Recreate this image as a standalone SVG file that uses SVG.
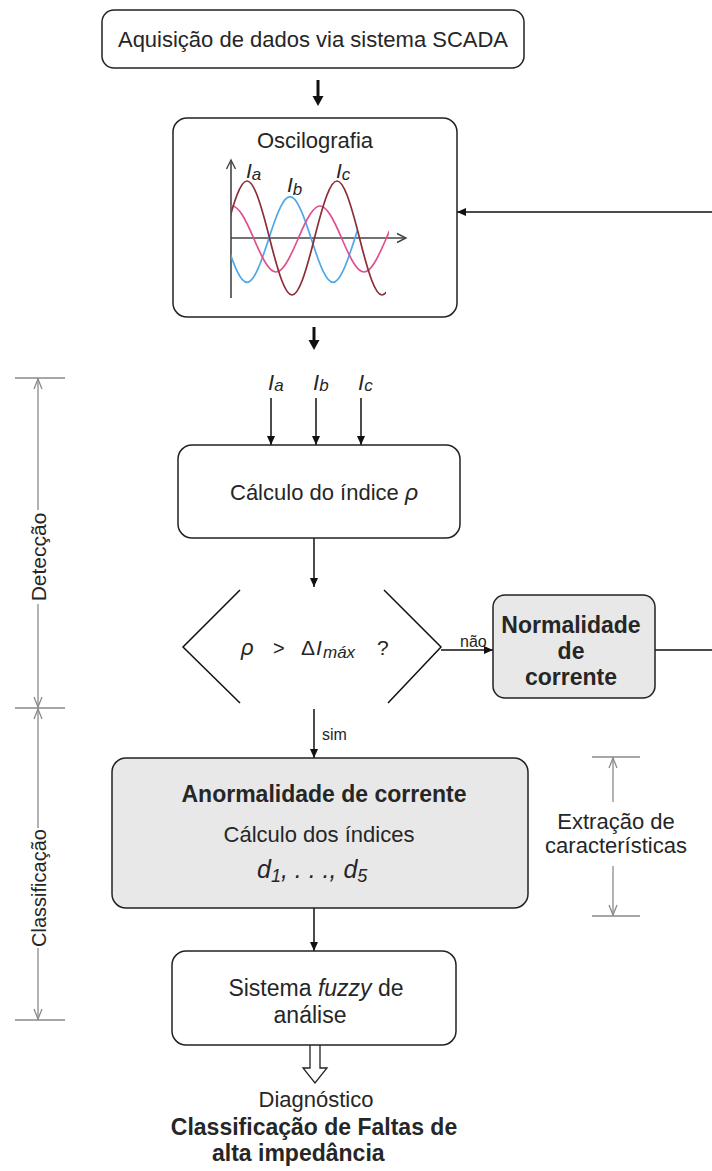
<svg xmlns="http://www.w3.org/2000/svg" width="712" height="1171" viewBox="0 0 712 1171">
<style>
text{font-family:"Liberation Sans",Arial,sans-serif;fill:#262626;}
.t{font-size:22px;}
.b{font-size:23px;font-weight:bold;}
.i{font-style:italic;}
.box{fill:#fff;stroke:#222;stroke-width:1.5;}
.gbox{fill:#e8e8e8;stroke:#222;stroke-width:1.5;}
.ln{stroke:#111;stroke-width:1.5;fill:none;}
.thick{stroke:#111;stroke-width:3;fill:none;}
.dim{stroke:#8a8a8a;stroke-width:1.3;fill:none;}
.ax{stroke:#444;stroke-width:1.6;fill:none;}
.wave{fill:none;stroke-width:1.7;}
</style>
<defs>
<marker id="ah" markerUnits="userSpaceOnUse" markerWidth="10" markerHeight="10" refX="9" refY="5" orient="auto">
<path d="M0,1 L9,5 L0,9 z" fill="#111"/>
</marker>
<marker id="axh" markerUnits="userSpaceOnUse" markerWidth="12" markerHeight="12" refX="10" refY="6" orient="auto">
<path d="M1,1.5 L10,6 L1,10.5" fill="none" stroke="#444" stroke-width="1.4"/>
</marker>
<clipPath id="cA"><rect x="231" y="150" width="155" height="160"/></clipPath>
<clipPath id="cB"><rect x="231" y="150" width="127" height="160"/></clipPath>
<clipPath id="cC"><rect x="231" y="150" width="158" height="160"/></clipPath>
</defs>

<g id="connectors">
<line class="thick" x1="318" y1="80" x2="318" y2="98"/>
<path d="M312.5,96 L323.5,96 L318,106 z" fill="#111"/>
<line class="thick" x1="314" y1="327" x2="314" y2="342"/>
<path d="M308.5,340 L319.5,340 L314,350 z" fill="#111"/>
<line class="ln" x1="271" y1="398" x2="271" y2="445" marker-end="url(#ah)"/>
<line class="ln" x1="316" y1="398" x2="316" y2="445" marker-end="url(#ah)"/>
<line class="ln" x1="361" y1="398" x2="361" y2="445" marker-end="url(#ah)"/>
<line class="ln" x1="314" y1="538" x2="314" y2="587" marker-end="url(#ah)"/>
<line class="ln" x1="441" y1="650" x2="493" y2="650" marker-end="url(#ah)"/>
<line class="ln" x1="655" y1="650" x2="712" y2="650"/>
<line class="ln" x1="712" y1="212" x2="457" y2="212" marker-end="url(#ah)"/>
<line class="ln" x1="314" y1="709" x2="314" y2="758" marker-end="url(#ah)"/>
<line class="ln" x1="314" y1="908" x2="314" y2="951" marker-end="url(#ah)"/>
<path d="M310,1045 L310,1068 L303,1068 L315,1083 L327,1068 L320,1068 L320,1045" fill="#fff" stroke="#222" stroke-width="1.3"/>
<text x="460" y="647" style="font-size:16px">não</text>
<text x="322" y="740" style="font-size:16px">sim</text>
</g>

<g id="node-aquisicao">
<rect class="box" x="102" y="10" width="422" height="58" rx="12"/>
<text class="t" x="313" y="47" text-anchor="middle">Aquisição de dados via sistema SCADA</text>
</g>

<g id="node-oscilografia">
<rect class="box" x="173" y="118" width="284" height="199" rx="14"/>
<text class="t" x="315" y="148" text-anchor="middle">Oscilografia</text>
<line class="ax" x1="231" y1="298" x2="231" y2="160" marker-end="url(#axh)"/>
<line class="ax" x1="231" y1="238" x2="406" y2="238" marker-end="url(#axh)"/>
<path class="wave" clip-path="url(#cB)" stroke="#4ea8e8" d="M182.5,239.5 C200.75,182.2 207.25,182.2 225.5,239.5 C243.75,296.8 250.25,296.8 268.5,239.5 C286.75,182.2 293.25,182.2 311.5,239.5 C329.75,296.8 336.25,296.8 354.5,239.5 C372.75,182.2 379.25,182.2 397.5,239.5"/>
<path class="wave" clip-path="url(#cC)" stroke="#e0508f" d="M210,239 C228.67,195 235.33,195 254,239 C272.67,283 279.33,283 298,239 C316.67,195 323.33,195 342,239 C360.67,283 367.33,283 386,239 C404.67,195 411.33,195 430,239"/>
<path class="wave" clip-path="url(#cA)" stroke="#8b2e36" d="M224.5,238 C243.6,162 250.4,162 269.5,238 C288.6,314 295.4,314 314.5,238 C333.6,162 340.4,162 359.5,238 C378.6,314 385.4,314 404.5,238"/>
<text class="i" x="246" y="178" style="font-size:21px">I<tspan dy="2" style="font-size:17px">a</tspan></text>
<text class="i" x="287" y="192" style="font-size:21px">I<tspan dy="3" style="font-size:17px">b</tspan></text>
<text class="i" x="336" y="178" style="font-size:21px">I<tspan dy="2" style="font-size:17px">c</tspan></text>
</g>

<g id="inputs">
<text class="i" x="268" y="390" style="font-size:22px">I<tspan dy="1" style="font-size:17px">a</tspan></text>
<text class="i" x="313" y="390" style="font-size:22px">I<tspan dy="1" style="font-size:17px">b</tspan></text>
<text class="i" x="358" y="390" style="font-size:22px">I<tspan dy="1" style="font-size:17px">c</tspan></text>
</g>

<g id="node-calculo">
<rect class="box" x="178" y="445" width="282" height="93" rx="14"/>
<text class="t" x="230" y="500">Cálculo do índice <tspan class="i" style="font-size:23px">ρ</tspan></text>
</g>

<g id="node-decisao">
<polyline class="ln" points="240,590 183,647 240,703"/>
<polyline class="ln" points="384,590 441,647 388,703"/>
<text class="i" x="241" y="655" style="font-size:22px">ρ</text>
<text x="273" y="655" style="font-size:20px">&gt;</text>
<text x="301" y="655" style="font-size:21px">Δ</text>
<text class="i" x="316" y="655" style="font-size:21px">I</text>
<text class="i" x="323" y="658" style="font-size:17px">máx</text>
<text x="377" y="655" style="font-size:21px">?</text>
</g>

<g id="node-normalidade">
<rect class="gbox" x="493" y="595" width="162" height="103" rx="12"/>
<text class="b" x="571" y="633" text-anchor="middle">Normalidade</text>
<text class="b" x="571" y="659" text-anchor="middle">de</text>
<text class="b" x="571" y="685" text-anchor="middle">corrente</text>
</g>

<g id="node-anormalidade">
<rect class="gbox" x="112" y="758" width="416" height="150" rx="14"/>
<text class="b" x="324" y="802" text-anchor="middle">Anormalidade de corrente</text>
<text class="t" x="319" y="842" text-anchor="middle">Cálculo dos índices</text>
<text class="i" x="257" y="878" style="font-size:25px">d<tspan dy="4" style="font-size:18px">1</tspan><tspan dy="-4">, . . ., d</tspan><tspan dy="4" style="font-size:18px">5</tspan></text>
</g>

<g id="node-fuzzy">
<rect class="box" x="172" y="951" width="284" height="94" rx="14"/>
<text class="t" x="316" y="996" text-anchor="middle" style="font-size:23px">Sistema <tspan class="i">fuzzy</tspan> de</text>
<text class="t" x="310" y="1023" text-anchor="middle" style="font-size:23px">análise</text>
</g>

<g id="node-diagnostico">
<text class="t" x="316" y="1107" text-anchor="middle">Diagnóstico</text>
<text class="b" x="314" y="1135" text-anchor="middle">Classificação de Faltas de</text>
<text class="b" x="212" y="1161">alta impedância</text>
</g>

<g id="bracket-fases">
<line class="dim" x1="15" y1="378" x2="65" y2="378"/>
<line class="dim" x1="15" y1="708" x2="65" y2="708"/>
<line class="dim" x1="15" y1="1020" x2="65" y2="1020"/>
<line class="dim" x1="38" y1="378" x2="38" y2="510"/>
<line class="dim" x1="38" y1="604" x2="38" y2="828"/>
<line class="dim" x1="38" y1="948" x2="38" y2="1020"/>
<polyline class="dim" points="34,389 38,379 42,389"/>
<polyline class="dim" points="34,697 38,707 42,697"/>
<polyline class="dim" points="34,719 38,709 42,719"/>
<polyline class="dim" points="34,1009 38,1019 42,1009"/>
<text class="t" transform="translate(46,557) rotate(-90)" text-anchor="middle" style="font-size:21px">Detecção</text>
<text class="t" transform="translate(46,888) rotate(-90)" text-anchor="middle" style="font-size:20px">Classificação</text>
</g>

<g id="bracket-extracao">
<line class="dim" x1="592" y1="757" x2="640" y2="757"/>
<line class="dim" x1="592" y1="916" x2="640" y2="916"/>
<line class="dim" x1="613" y1="757" x2="613" y2="802"/>
<line class="dim" x1="613" y1="866" x2="613" y2="916"/>
<polyline class="dim" points="609,768 613,758 617,768"/>
<polyline class="dim" points="609,905 613,915 617,905"/>
<text class="t" x="616" y="829" text-anchor="middle">Extração de</text>
<text class="t" x="616" y="853" text-anchor="middle">características</text>
</g>
</svg>
